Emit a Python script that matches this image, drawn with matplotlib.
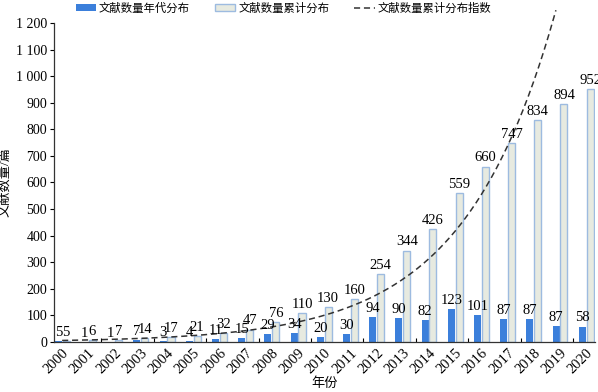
import numpy as np
import matplotlib
matplotlib.use("Agg")
import matplotlib.pyplot as plt
from matplotlib.ticker import FixedLocator, FuncFormatter

plt.rcParams['font.family'] = ['Liberation Serif', 'Noto Sans CJK SC', 'DejaVu Sans']

years = [str(y) for y in range(2000, 2021)]
yearly = [5, 1, 1, 7, 3, 4, 11, 15, 29, 34, 20, 30, 94, 90, 82, 123, 101, 87, 87, 60, 58]
yearly_labels = ['5', '1', '1', '7', '3', '4', '11', '15', '29', '34', '20', '30',
                 '94', '90', '82', '123', '101', '87', '87', '87', '58']
cumulative = [5, 6, 7, 14, 17, 21, 32, 47, 76, 110, 130, 160, 254, 344, 426,
              559, 660, 747, 834, 894, 952]
# exponential trend y = a * exp(b * index)
trend_a = 5.8
trend_b = 0.285

legend_labels = ['文献数量年代分布', '文献数量累计分布', '文献数量累计分布指数']
xlabel = '年份'
ylabel = '文献数量/篇'

blue = '#3b7fdb'
grey_fill = '#e7eae0'
grey_edge = '#9dbbe0'

fig = plt.figure(figsize=(5.98, 3.92), dpi=100)
ax = fig.add_axes([54/598, 1-342/392, (595-54)/598, (342-23)/392])

x = np.arange(len(years))
w = 0.27
b1 = ax.bar(x - 0.145, yearly, width=w, color=blue, label=legend_labels[0], zorder=2)
b2 = ax.bar(x + 0.155, cumulative, width=w, color=grey_fill, edgecolor=grey_edge,
            linewidth=1.0, label=legend_labels[1], zorder=2)

xs = np.linspace(0, 20, 400)
ys = trend_a * np.exp(trend_b * xs)
mask = ys <= 1260
ln, = ax.plot(xs[mask], ys[mask], ls=(0, (4, 2.5)), color='#333333', lw=1.1,
              label=legend_labels[2], clip_on=False, zorder=3)

for xi, v, t in zip(x, yearly, yearly_labels):
    ax.text(xi - 0.145, v + 8, t, ha='center', va='bottom', fontsize=10.5)
for xi, v in zip(x, cumulative):
    ax.text(xi + 0.155, v + 8, str(v), ha='center', va='bottom', fontsize=10.5)

ax.set_xlim(-0.31, 20.34)
ax.set_ylim(0, 1200)
ax.set_yticks(np.arange(0, 1201, 100))
ax.yaxis.set_major_formatter(FuncFormatter(lambda v, p: f"{int(v):,}".replace(',', ' ')))
ax.set_xticks(x)
ax.set_xticklabels(years, rotation=45, ha='right', rotation_mode='anchor', fontsize=10.5)
ax.tick_params(axis='x', length=0, pad=3)
ax.xaxis.set_minor_locator(FixedLocator(np.arange(1.5, 20, 2)))
ax.tick_params(axis='x', which='minor', direction='in', length=3, width=0.8)
ax.tick_params(axis='y', labelsize=10, length=3, width=0.8, direction='out', pad=2)
for s in ['top', 'right']:
    ax.spines[s].set_visible(False)
for s in ['left', 'bottom']:
    ax.spines[s].set_linewidth(0.9)
    ax.spines[s].set_color('#333333')

ax.set_xlabel(xlabel, fontsize=9.5, labelpad=1)
ax.set_ylabel(ylabel, fontsize=9.5, labelpad=3)

fig.legend(handles=[b1, b2, ln], labels=legend_labels, loc='upper center',
           bbox_to_anchor=(0.474, 1.02), ncol=3, frameon=False, fontsize=8.2,
           handlelength=1.8, handletextpad=0.25, columnspacing=2.2, handleheight=0.5)

fig.savefig('out.png', dpi=100)
